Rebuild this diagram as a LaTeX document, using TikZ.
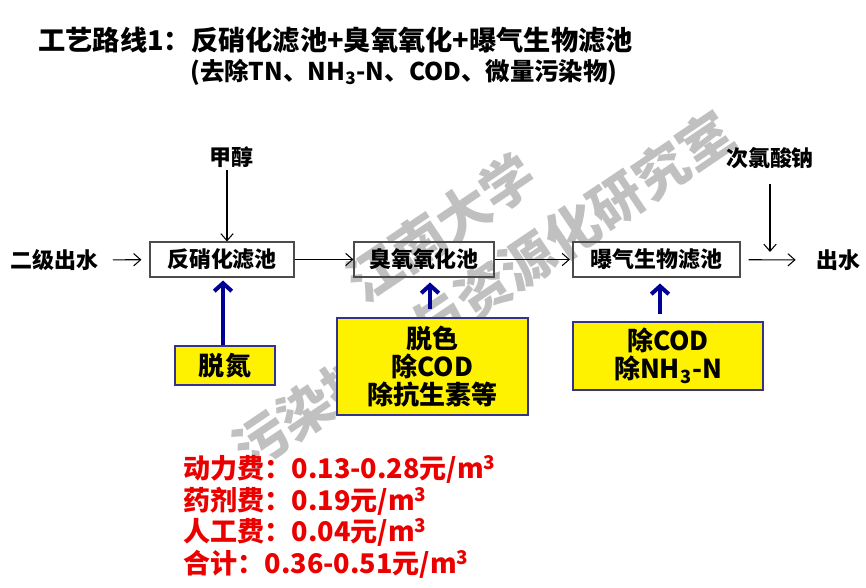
\documentclass[tikz,border=0pt]{standalone}
\usepackage{fontspec}
\setmainfont{Noto Sans CJK SC}
\usepackage{xcolor}
\usetikzlibrary{arrows.meta, positioning, backgrounds}
\definecolor{rimblue}{RGB}{51,51,140}
\definecolor{pushblue}{RGB}{0,0,150}
\definecolor{costred}{RGB}{235,0,0}
\definecolor{markgray}{RGB}{192,192,192}
\tikzset{
	tankbox/.style={draw=black!70, line width=0.6pt, minimum height=0.7cm, inner sep=0pt,
		font=\fontsize{12.5}{15}\selectfont\bfseries},
	taskbox/.style={draw=rimblue, fill=yellow, line width=1.4pt, align=center, inner sep=0pt,
		font=\fontsize{14.8}{16}\selectfont\bfseries},
	plainlabel/.style={inner sep=0pt, font=\fontsize{12.5}{15}\selectfont\bfseries},
	flow/.style={-{Straight Barb[length=4pt,width=7pt]}, line width=0.6pt},
	push/.style={-{Straight Barb[length=4.5pt,width=10pt]}, line width=2.3pt, pushblue}
}

\begin{document}
\begin{tikzpicture}[font=\bfseries]
	\useasboundingbox (0,0) rectangle (17.32,11.76);
	\node[rotate=34, align=center, text=markgray, inner sep=0pt,
		font=\fontsize{30.5}{43}\selectfont\bfseries] (mark) at (9.24,6.58)
		{江南大学\\污染控制与资源化研究室};
	\node[anchor=west, inner sep=0pt, font=\fontsize{15.5}{18}\selectfont\bfseries] (title) at (0.76,10.96)
		{工艺路线1：反硝化滤池+臭氧氧化+曝气生物滤池};
	\node[anchor=west, inner sep=0pt, font=\fontsize{13.9}{16}\selectfont\bfseries] (subtitle) at (3.80,10.32)
		{(去除TN、NH\textsubscript{3}-N、COD、微量污染物)};
	\node[tankbox, minimum width=2.88cm] (denit) at (4.44,6.57) {反硝化滤池};
	\node[tankbox, minimum width=2.80cm] (ozone) at (8.48,6.57) {臭氧氧化池};
	\node[tankbox, minimum width=3.34cm] (baf) at (13.13,6.57) {曝气生物滤池};
	\node[plainlabel] (inflow) at (1.09,6.56) {二级出水};
	\node[plainlabel] (outflow) at (16.76,6.56) {出水};
	\node[plainlabel] (methanol) at (4.62,8.62) {甲醇};
	\node[plainlabel] (naclo) at (15.40,8.60) {次氯酸钠};
	\coordinate (dose) at (15.40,6.72);
	\draw[flow, shorten <=0.28cm, shorten >=0.16cm] (inflow) -- (denit);
	\draw[flow] (denit) -- (ozone);
	\draw[flow, shorten >=0.05cm] (ozone) -- (baf);
	\draw[flow, shorten <=0.16cm, shorten >=0.40cm] (baf) -- (outflow);
	\draw[flow, shorten <=0.04cm] (methanol.south -| 4.54,0) -- (4.54,0 |- denit.north);
	\draw[flow, shorten <=0.30cm] (naclo) -- (dose);
	\node[taskbox, minimum width=2.0cm, minimum height=0.78cm] (denoxnote) at (4.50,4.45) {脱氮};
	\node[taskbox, minimum width=3.82cm, minimum height=1.94cm] (ozonenote) at (8.65,4.43)
		{脱色\\除COD\\除抗生素等};
	\node[taskbox, minimum width=3.80cm, minimum height=1.36cm] (bafnote) at (13.36,4.64)
		{除COD\\除NH\textsubscript{3}-N};
	\draw[push, shorten >=0.06cm] (denoxnote.north -| 4.46,0) -- (4.46,0 |- denit.south);
	\draw[push, shorten <=0.16cm, shorten >=0.10cm] (ozonenote.north -| 8.60,0) -- (8.60,0 |- ozone.south);
	\draw[push, shorten <=0.14cm, shorten >=0.12cm] (bafnote.north -| 13.20,0) -- (13.20,0 |- baf.south);
	\node[anchor=west, align=left, text=costred, inner sep=0pt,
		font=\fontsize{15.4}{17.9}\selectfont\bfseries] (cost) at (3.66,1.42)
		{动力费：0.13-0.28元/m\textsuperscript{3}\\
		药剂费：0.19元/m\textsuperscript{3}\\
		人工费：0.04元/m\textsuperscript{3}\\
		合计：0.36-0.51元/m\textsuperscript{3}};
\end{tikzpicture}
\end{document}
